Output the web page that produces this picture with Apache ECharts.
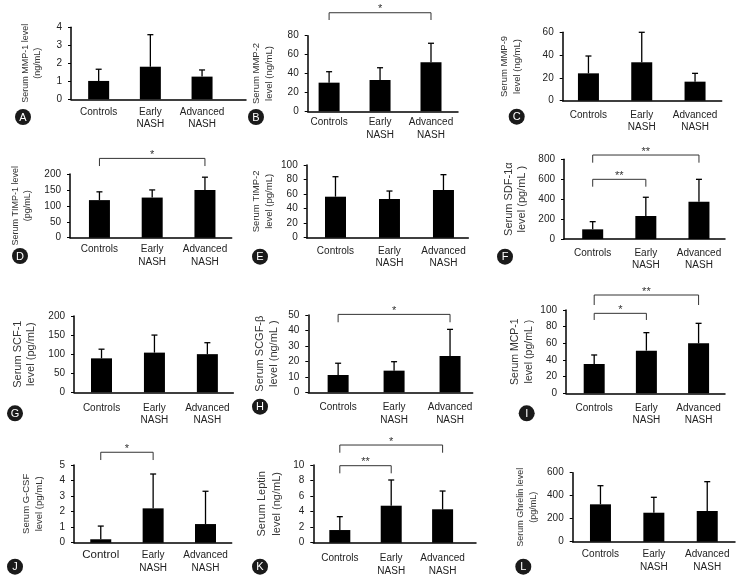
<!DOCTYPE html>
<html>
<head>
<meta charset="utf-8">
<script src="https://cdn.jsdelivr.net/npm/echarts@6/dist/echarts.min.js"></script>
<style>
  html, body { margin: 0; padding: 0; background: #fff; }
  #main { width: 743px; height: 585px; }
</style>
</head>
<body>
<div id="main"></div>
<script>
// groups on the x axis
var categories = ['Controls', 'Early\nNASH', 'Advanced\nNASH'];
var categoriesJ = ['Control', 'Early\nNASH', 'Advanced\nNASH'];

// mean and SD (upper whisker) per group
var mmp1Mean = [1.02, 1.81, 1.26],    mmp1Sd = [0.65, 1.78, 0.37];
var mmp2Mean = [30.3, 33.1, 51.8],    mmp2Sd = [11.6, 13.0, 20.2];
var mmp9Mean = [24.0, 33.7, 16.7],    mmp9Sd = [15.2, 26.3, 7.3];
var timp1Mean = [118, 126, 150],      timp1Sd = [26, 24, 40];
var timp2Mean = [56.4, 53.2, 65.6],   timp2Sd = [27.5, 11.0, 21.1];
var sdf1Mean = [97, 231, 374],        sdf1Sd = [77, 188, 225];
var scf1Mean = [89, 104, 100],        scf1Sd = [24, 46, 30];
var scgfMean = [11.2, 14.0, 23.5],    scgfSd = [7.6, 5.8, 17.2];
var mcp1Mean = [35.2, 51.2, 60.0],    mcp1Sd = [10.8, 21.6, 24.0];
var gcsfMean = [0.22, 2.21, 1.2],     gcsfSd = [0.85, 2.21, 2.11];
var leptinMean = [1.63, 4.76, 4.3],   leptinSd = [1.72, 3.31, 2.35];
var ghrelinMean = [325, 252, 267],    ghrelinSd = [162, 134, 255];

// significance brackets: [from group, to group, bracket level, tip level, mark]
var mmp2Sig = [[0, 2, 104.3, 96.6, '*']];
var timp1Sig = [[0, 2, 249, 225, '*']];
var sdf1Sig = [[0, 2, 843, 766, '**'], [0, 1, 599, 525, '**']];
var scgfSig = [[0, 2, 50.4, 45.3, '*']];
var mcp1Sig = [[0, 2, 118, 106, '**'], [0, 1, 96, 88, '*']];
var gcsfSig = [[0, 1, 5.82, 5.32, '*']];
var leptinSig = [[0, 2, 12.57, 11.58, '*'], [0, 1, 9.91, 8.93, '**']];

var FONT = 'Liberation Sans, Arial, sans-serif';

// layout of each panel: box = [left, top, width, height] of the plot area
var panels = [
  {tag: 'A', mean: mmp1Mean, sd: mmp1Sd, sig: [], yMax: 4, yStep: 1,
   name: 'Serum MMP-1 level\n(ng/mL)', box: [71, 27.3, 175, 72], xr: [0.465, 3.85],
   gap: 27.7, nfs: 9, nlh: 12, lm: 6.4, badge: [23, 117]},
  {tag: 'B', mean: mmp2Mean, sd: mmp2Sd, sig: mmp2Sig, yMax: 80, yStep: 20,
   name: 'Serum MMP-2\nlevel (ng/mL)', box: [307.7, 35.7, 150.3, 75.6], xr: [0.58, 3.53],
   gap: 31.5, nfs: 9.5, nlh: 13.3, lm: 5.1, badge: [256, 117]},
  {tag: 'C', mean: mmp9Mean, sd: mmp9Sd, sig: [], yMax: 60, yStep: 20,
   name: 'Serum MMP-9\nlevel (ng/mL)', box: [562.7, 32.3, 159, 68.4], xr: [0.517, 3.5],
   gap: 38.5, nfs: 9.5, nlh: 13, lm: 8, badge: [516.7, 116.7]},
  {tag: 'D', mean: timp1Mean, sd: timp1Sd, sig: timp1Sig, yMax: 200, yStep: 50,
   name: 'Serum TIMP-1 level\n(pg/mL)', box: [70, 174, 161.7, 63.7], xr: [0.442, 3.507],
   gap: 36.5, nfs: 9, nlh: 12.3, lm: 5.6, badge: [20, 256]},
  {tag: 'E', mean: timp2Mean, sd: timp2Sd, sig: [], yMax: 100, yStep: 20,
   name: 'Serum TIMP-2\nlevel (pg/mL)', box: [306.7, 165, 161.6, 72.7], xr: [0.467, 3.46],
   gap: 30.5, nfs: 9.5, nlh: 13.3, lm: 7, badge: [260, 256.7]},
  {tag: 'F', mean: sdf1Mean, sd: sdf1Sd, sig: sdf1Sig, yMax: 800, yStep: 200,
   name: 'Serum SDF-1\u03b1\nlevel (pg/mL )', box: [564, 159.3, 161, 79.7], xr: [0.46, 3.49],
   gap: 35, nfs: 11, nlh: 13.4, lm: 7.7, badge: [505, 256.7]},
  {tag: 'G', mean: scf1Mean, sd: scf1Sd, sig: [], yMax: 200, yStep: 50,
   name: 'Serum SCF-1\nlevel (pg/mL)', box: [74, 316, 159.3, 76.3], xr: [0.48, 3.49],
   gap: 36, nfs: 11, nlh: 13.4, lm: 9.4, badge: [15, 413.3]},
  {tag: 'H', mean: scgfMean, sd: scgfSd, sig: scgfSig, yMax: 50, yStep: 10,
   name: 'Serum SCGF-\u03b2\nlevel (ng/mL )', box: [308.3, 315, 164.4, 77.3], xr: [0.467, 3.405],
   gap: 28, nfs: 11, nlh: 13.3, lm: 9, badge: [260, 406.7]},
  {tag: 'I', mean: mcp1Mean, sd: mcp1Sd, sig: mcp1Sig, yMax: 100, yStep: 20,
   name: 'Serum MCP-1\nlevel (pg/mL )', box: [566, 310, 159, 83.3], xr: [0.46, 3.506],
   gap: 30.7, nfs: 10.5, nlh: 13.3, lm: 8.4, badge: [526.7, 413.3]},
  {tag: 'J', mean: gcsfMean, sd: gcsfSd, sig: gcsfSig, yMax: 5, yStep: 1, cats: categoriesJ,
   name: 'Serum G-CSF\nlevel (pg/mL)', box: [74, 465, 157.7, 77.7], xr: [0.489, 3.5],
   gap: 27.8, nfs: 9.5, nlh: 13.3, lm: 6.3, badge: [15, 566.7]},
  {tag: 'K', mean: leptinMean, sd: leptinSd, sig: leptinSig, yMax: 10, yStep: 2,
   name: 'Serum Leptin\nlevel (ng/mL)', box: [313.3, 465, 162.7, 77.7], xr: [0.484, 3.65],
   gap: 29.6, nfs: 11, nlh: 14.4, lm: 9.6, badge: [260, 566.7]},
  {tag: 'L', mean: ghrelinMean, sd: ghrelinSd, sig: [], yMax: 600, yStep: 200,
   name: 'Serum Ghrelin level\n(pg/mL)', box: [572.7, 472.7, 162.3, 69], xr: [0.48, 3.52],
   gap: 33, nfs: 9, nlh: 12.6, lm: 6.6, badge: [523.3, 566.7]}
];

var grids = [], xAxes = [], yAxes = [], series = [], graphics = [];

panels.forEach(function (p, i) {
  var cats = p.cats || categories;
  grids.push({left: p.box[0], top: p.box[1], width: p.box[2], height: p.box[3]});

  xAxes.push({
    gridIndex: i, type: 'value', min: p.xr[0], max: p.xr[1],
    axisLine: {lineStyle: {color: '#000', width: 1.5}},
    axisTick: {show: false},
    splitLine: {show: false},
    axisLabel: {
      customValues: [1, 2, 3],
      formatter: function (v) {
        var t = cats[Math.round(v) - 1];
        return t === 'Control' ? '{big|Control}' : t;
      },
      margin: p.lm, fontSize: 10, lineHeight: 12.5, color: '#222', fontFamily: FONT,
      rich: {big: {fontSize: 11.5, fontFamily: FONT, color: '#222'}}
    }
  });

  yAxes.push({
    gridIndex: i, type: 'value', min: 0, max: p.yMax, interval: p.yStep,
    axisLine: {show: true, onZero: false, lineStyle: {color: '#000', width: 1.5}},
    axisTick: {show: true, length: 3, lineStyle: {color: '#000'}},
    splitLine: {show: false},
    axisLabel: {fontSize: 10, color: '#222', margin: 9, fontFamily: FONT},
    name: p.name, nameLocation: 'middle', nameRotate: 90, nameGap: p.gap,
    nameMoveOverlap: false,
    nameTextStyle: {fontSize: p.nfs, lineHeight: p.nlh, color: '#333', fontFamily: FONT}
  });

  series.push({
    type: 'bar', xAxisIndex: i, yAxisIndex: i, barWidth: 21, silent: true,
    itemStyle: {color: '#000'},
    data: p.mean.map(function (m, k) { return [k + 1, m]; })
  });

  series.push({
    type: 'custom', xAxisIndex: i, yAxisIndex: i, silent: true, z: 3,
    data: p.mean.map(function (m, k) { return [k + 1, m, p.sd[k]]; }),
    renderItem: function (params, api) {
      var x = api.value(0), m = api.value(1), s = api.value(2);
      var a = api.coord([x, m]), b = api.coord([x, m + s]);
      var st = {stroke: '#000', lineWidth: 1.3};
      return {type: 'group', children: [
        {type: 'line', shape: {x1: a[0], y1: a[1], x2: b[0], y2: b[1]}, style: st},
        {type: 'line', shape: {x1: b[0] - 3, y1: b[1], x2: b[0] + 3, y2: b[1]}, style: st}
      ]};
    }
  });

  if (p.sig.length) {
    series.push({
      type: 'custom', xAxisIndex: i, yAxisIndex: i, silent: true, clip: false,
      data: p.sig.map(function (s) { return [s[0] + 1, s[1] + 1, s[2], s[3]]; }),
      renderItem: function (params, api) {
        var x0 = api.value(0), x1 = api.value(1), lv = api.value(2), tip = api.value(3);
        var p0 = api.coord([x0, tip]), p1 = api.coord([x0, lv]);
        var p2 = api.coord([x1, lv]), p3 = api.coord([x1, tip]);
        return {type: 'group', children: [
          {type: 'polyline', shape: {points: [p0, p1, p2, p3]},
           style: {stroke: '#333', lineWidth: 1, fill: null}},
          {type: 'text', x: (p1[0] + p2[0]) / 2, y: p1[1] - 3.5,
           style: {text: p.sig[params.dataIndex][4], fontSize: 11, fontFamily: FONT,
                   fill: '#333', align: 'center', verticalAlign: 'middle'}}
        ]};
      }
    });
  }

  graphics.push({
    type: 'group', left: p.badge[0] - 8, top: p.badge[1] - 8, silent: true,
    children: [
      {type: 'circle', shape: {cx: 8, cy: 8, r: 8}, style: {fill: '#1a1a1a'}},
      {type: 'text', x: 8, y: 8.5, style: {text: p.tag, fill: '#fff', fontSize: 11,
        fontFamily: FONT, align: 'center', verticalAlign: 'middle'}}
    ]
  });
});

var myChart = echarts.init(document.getElementById('main'));
myChart.setOption({
  animation: false,
  backgroundColor: '#fff',
  grid: grids,
  xAxis: xAxes,
  yAxis: yAxes,
  series: series,
  graphic: graphics
});
</script>
</body>
</html>
